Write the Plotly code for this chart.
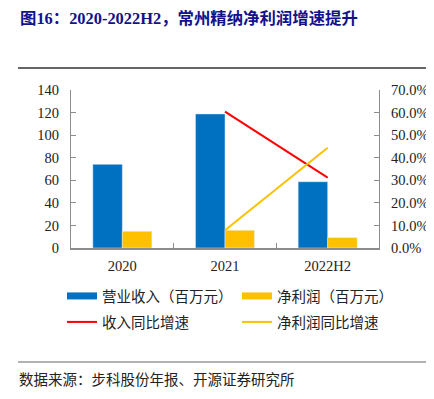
import plotly.graph_objects as go

categories = ["2020", "2021", "2022H2"]
revenue = [74.1, 118.8, 58.7]
net_profit = [14.8, 15.7, 9.2]
revenue_yoy = [None, 0.604, 0.312]
profit_yoy = [None, 0.079, 0.444]

BLUE = "#0070C0"
GOLD = "#FFC000"
RED = "#FF0000"
AXIS = "#8c8c8c"

fig = go.Figure()
fig.add_trace(go.Bar(x=categories, y=revenue, name="营业收入（百万元）", marker_color=BLUE,
                     showlegend=False))
fig.add_trace(go.Bar(x=categories, y=net_profit, name="净利润（百万元）", marker_color=GOLD,
                     showlegend=False))
fig.add_trace(go.Scatter(x=categories, y=revenue_yoy, name="收入同比增速", mode="lines",
                         line=dict(color=RED, width=2), yaxis="y2", showlegend=False))
fig.add_trace(go.Scatter(x=categories, y=profit_yoy, name="净利润同比增速", mode="lines",
                         line=dict(color=GOLD, width=2), yaxis="y2", showlegend=False))

# legend entries
fig.add_trace(go.Scatter(x=[None], y=[None], mode="lines", name="营业收入（百万元）",
                         line=dict(color=BLUE, width=7), legend="legend"))
fig.add_trace(go.Scatter(x=[None], y=[None], mode="lines", name="净利润（百万元）",
                         line=dict(color=GOLD, width=7), legend="legend"))
fig.add_trace(go.Scatter(x=[None], y=[None], mode="lines", name="收入同比增速",
                         line=dict(color=RED, width=2), legend="legend2"))
fig.add_trace(go.Scatter(x=[None], y=[None], mode="lines", name="净利润同比增速",
                         line=dict(color=GOLD, width=2), legend="legend2"))

OFF = 8  # page body margin
W, H = 434 - OFF, 399 - OFF
# plot area in page pixels
PL, PR, PT, PB = 71, 379, 90, 248
L, R, T, B = PL - OFF, W - (PR - OFF), PT - OFF, H - (PB - OFF)
pw, ph = W - L - R, H - T - B

def px(x):
    return (x - PL) / pw

def py(y):
    return (PB - y) / ph

tickfont = dict(family="Liberation Serif, Times New Roman, serif", size=14.5, color="#222")
legfont = dict(family="Noto Sans CJK SC", size=14.5, color="#222")

fig.update_layout(
    width=W, height=H,
    margin=dict(l=L, r=R, t=T, b=B, autoexpand=False),
    paper_bgcolor="white", plot_bgcolor="white",
    barmode="group", bargap=0.425, bargroupgap=0,
    xaxis=dict(type="category", showline=True, linecolor=AXIS, linewidth=1.5,
               ticks="inside", tickson="boundaries", ticklen=5, tickcolor=AXIS,
               tickfont=tickfont, showgrid=False, ticklabelstandoff=4, automargin=False),
    yaxis=dict(range=[0, 140], dtick=20, showline=True, linecolor=AXIS, linewidth=1.2,
               ticks="inside", ticklen=5, tickcolor=AXIS, tickfont=tickfont,
               showgrid=False, zeroline=False, ticklabelstandoff=8, automargin=False),
    yaxis2=dict(range=[0, 0.7], dtick=0.1, tickformat=".1%", overlaying="y", side="right",
                showline=True, linecolor=AXIS, linewidth=1.2, ticks="inside", ticklen=5,
                tickcolor=AXIS, tickfont=tickfont, showgrid=False, zeroline=False,
                ticklabelstandoff=8, automargin=False),
    legend=dict(orientation="h", x=px(62), y=py(296), xanchor="left", yanchor="middle",
                entrywidth=130, entrywidthmode="pixels", font=legfont,
                itemwidth=30, bgcolor="rgba(0,0,0,0)"),
    legend2=dict(orientation="h", x=px(62), y=py(322), xanchor="left", yanchor="middle",
                 entrywidth=130, entrywidthmode="pixels", font=legfont,
                 itemwidth=30, bgcolor="rgba(0,0,0,0)"),
    font=dict(family="Noto Sans CJK SC"),
    shapes=[
        dict(type="line", xref="paper", yref="paper", x0=px(18), x1=px(430), y0=py(68), y1=py(68),
             line=dict(color="#333", width=1.5)),
        dict(type="line", xref="paper", yref="paper", x0=px(18), x1=px(430), y0=py(362), y1=py(362),
             line=dict(color="#999", width=1.5)),
    ],
    annotations=[
        dict(text="<b>图16：2020-2022H2，常州精纳净利润增速提升</b>", xref="paper", yref="paper",
             x=px(18), y=py(18), xanchor="left", yanchor="middle", showarrow=False,
             font=dict(family="Liberation Serif, Noto Sans CJK SC", size=16.4, color="#12128c")),
        dict(text="数据来源：步科股份年报、开源证券研究所", xref="paper", yref="paper",
             x=px(17), y=py(378), xanchor="left", yanchor="middle", showarrow=False,
             font=dict(family="Noto Sans CJK SC", size=14.5, color="#222")),
    ],
)

fig.write_html("out.html")
